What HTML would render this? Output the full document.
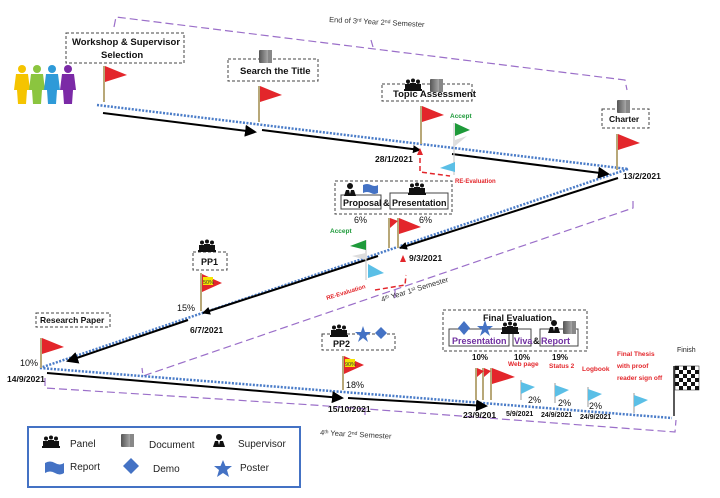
<!DOCTYPE html>
<html><head><meta charset="utf-8"><style>
html,body{margin:0;padding:0;background:#fff;}
svg{display:block;font-family:"Liberation Sans",sans-serif;}
.b{font-weight:bold;}
</style></head><body>
<svg width="720" height="498" viewBox="0 0 720 498" xmlns="http://www.w3.org/2000/svg">
<defs>
<marker id="ah" markerWidth="8" markerHeight="8" refX="7" refY="4" orient="auto" markerUnits="userSpaceOnUse"><path d="M0,0 L8,4 L0,8 z" fill="#000"/></marker>
<marker id="ahl" markerWidth="12" markerHeight="12" refX="10" refY="6" orient="auto" markerUnits="userSpaceOnUse"><path d="M0,0 L12,6 L0,12 z" fill="#000"/></marker>
<linearGradient id="dg" x1="0" x2="1"><stop offset="0" stop-color="#555"/><stop offset="1" stop-color="#ccc"/></linearGradient>
<g id="panel"><circle cx="4" cy="2.5" r="2" fill="#111"/><circle cx="9" cy="1.5" r="2" fill="#111"/><circle cx="14" cy="2.5" r="2" fill="#111"/><rect x="1" y="5" width="6" height="6" fill="#111"/><rect x="6" y="4" width="6" height="7" fill="#111"/><rect x="11" y="5" width="6" height="6" fill="#111"/><rect x="0" y="10" width="18" height="2" fill="#111"/></g>
<g id="doc"><rect x="0" y="0" width="13" height="13" fill="url(#dg)" rx="1"/><rect x="9" y="0" width="4" height="13" fill="#888"/></g>
<g id="sup"><circle cx="6" cy="3" r="3" fill="#111"/><path d="M0,13 L2,7 L10,7 L12,13 z" fill="#111"/><path d="M5,7 L6,11 L7,7z" fill="#fff"/></g>
<g id="rflag"><path d="M0,0 L22,9 L0,16 z" fill="#e3262b"/></g>
<g id="bflag"><line x1="0" y1="0" x2="0" y2="20" stroke="#aaa" stroke-width="1.2"/><path d="M0,2 L14,7 L0,14 z" fill="#5bbfe6"/></g>
</defs>

<!-- purple dashed brackets -->
<g fill="none" stroke="#9b6fc9" stroke-width="1.2" stroke-dasharray="8,4">
<path d="M114,27 L116,17 L625,80 L627,90"/>
<path d="M633,201 L633,208 L143,376 L142,368"/>
<path d="M45,378 L45,388 L313,405 L675,432 L676,420"/>
</g>
<g stroke="#9b6fc9" stroke-width="1.2" fill="none"><path d="M371,40 L373,47"/><path d="M395,290 L395,298"/><path d="M365,410 L365,415"/></g>
<text x="329" y="22" font-size="7.5" fill="#333" transform="rotate(3 329 22)">End of 3<tspan font-size="5" dy="-2">rd</tspan><tspan dy="2"> Year 2</tspan><tspan font-size="5" dy="-2">nd</tspan><tspan dy="2"> Semester</tspan></text>
<text x="382" y="302" font-size="7.5" fill="#333" transform="rotate(-17 382 302)">4<tspan font-size="5" dy="-2">th</tspan><tspan dy="2"> Year 1</tspan><tspan font-size="5" dy="-2">st</tspan><tspan dy="2"> Semester</tspan></text>
<text x="320" y="435" font-size="7.5" fill="#333" transform="rotate(3 320 435)">4<tspan font-size="5" dy="-2">th</tspan><tspan dy="2"> Year 2</tspan><tspan font-size="5" dy="-2">nd</tspan><tspan dy="2"> Semester</tspan></text>

<!-- blue dotted path -->
<g fill="none" stroke="#4a7cc8" stroke-width="2.5" stroke-dasharray="2,1.5">
<path d="M97,105 L628,169"/>
<path d="M628,169 L40,368"/>
<path d="M40,368 L672,418"/>
</g>

<!-- black arrows -->
<g stroke="#000" stroke-width="2" fill="none">
<line x1="103" y1="113" x2="255" y2="132" marker-end="url(#ahl)"/>
<line x1="262" y1="130" x2="420" y2="150" marker-end="url(#ah)"/>
<line x1="452" y1="154" x2="608" y2="174" marker-end="url(#ahl)"/>
<line x1="618" y1="178" x2="400" y2="248" marker-end="url(#ah)"/>
<line x1="378" y1="256" x2="203" y2="313" marker-end="url(#ah)"/>
<line x1="188" y1="320" x2="68" y2="361" marker-end="url(#ahl)"/>
<line x1="47" y1="373" x2="342" y2="398" marker-end="url(#ahl)"/>
<line x1="348" y1="398" x2="486" y2="406" marker-end="url(#ahl)"/>
</g>

<!-- people -->
<g>
<g fill="#f5c400"><circle cx="22" cy="69" r="4"/><path d="M16,74 L28,74 L30,90 L27,90 L26,104 L18,104 L17,90 L14,90z"/></g>
<g fill="#8bc53f"><circle cx="37" cy="69" r="4"/><path d="M31,74 L43,74 L45,90 L42,90 L41,104 L33,104 L32,90 L29,90z"/></g>
<g fill="#2e9ad8"><circle cx="52" cy="69" r="4"/><path d="M46,74 L58,74 L60,90 L57,90 L56,104 L48,104 L47,90 L44,90z"/></g>
<g fill="#7b2aa6"><circle cx="68" cy="69" r="4"/><path d="M62,74 L74,74 L76,90 L73,90 L72,104 L64,104 L63,90 L60,90z"/></g>
</g>

<!-- dashed boxes -->
<g fill="none" stroke="#444" stroke-width="1" stroke-dasharray="3,2">
<rect x="66" y="33" width="118" height="30"/>
<rect x="228" y="59" width="90" height="22"/>
<rect x="382" y="84" width="90" height="17"/>
<rect x="602" y="109" width="47" height="19"/>
<rect x="335" y="181" width="117" height="33"/>
<rect x="193" y="252" width="34" height="18"/>
<rect x="36" y="313" width="74" height="14"/>
<rect x="322" y="334" width="73" height="16"/>
<rect x="443" y="310" width="144" height="41"/>
</g>
<g fill="none" stroke="#444" stroke-width="1">
<rect x="341" y="195" width="40" height="14"/>
<rect x="390" y="193" width="58" height="16"/>
<rect x="449" y="329" width="60" height="17"/>
<rect x="513" y="329" width="18" height="17"/>
<rect x="540" y="329" width="38" height="17"/>
</g>

<g font-size="9.5" class="b" fill="#111" font-weight="bold">
<text x="72" y="45">Workshop &amp; Supervisor</text>
<text x="101" y="58">Selection</text>
<text x="240" y="74">Search the Title</text>
<text x="393" y="97">Topic Assessment</text>
<text x="609" y="122" font-size="8.5">Charter</text>
<text x="343" y="206" font-size="9">Proposal</text>
<text x="383" y="206" font-size="9">&amp;</text>
<text x="392" y="206" font-size="9">Presentation</text>
<text x="201" y="265" font-size="9">PP1</text>
<text x="40" y="323" font-size="8.5">Research Paper</text>
<text x="333" y="347" font-size="9">PP2</text>
<text x="483" y="321" font-size="9">Final Evaluation</text>
<g fill="#7030a0"><text x="452" y="344" font-size="9">Presentation</text><text x="514" y="344" font-size="9">Viva</text><text x="541" y="344" font-size="9">Report</text></g>
<text x="533" y="344" font-size="9">&amp;</text>
</g>

<!-- icons -->
<use href="#doc" x="259" y="50"/>
<use href="#panel" x="404" y="79"/><use href="#doc" x="430" y="79"/>
<use href="#doc" x="617" y="100"/>
<use href="#sup" x="344" y="183"/>
<path d="M363,185 q4,-2 8,0 q4,2 7,0 l0,8 q-4,2 -7,0 q-4,-2 -8,0z" fill="#4472c4"/>
<use href="#panel" x="408" y="183"/>
<use href="#panel" x="198" y="240"/>
<use href="#panel" x="330" y="325"/>
<polygon points="363,326 365,332 371,332 366,336 368,342 363,338 358,342 360,336 355,332 361,332" fill="#4472c4"/>
<polygon points="381,327 387,333 381,339 375,333" fill="#4472c4"/>
<polygon points="464,321 470,328 464,335 458,328" fill="#4472c4"/>
<polygon points="485,320 487,326 493,326 488,330 490,336 485,332 480,336 482,330 477,326 483,326" fill="#4472c4"/>
<use href="#panel" x="501" y="322"/>
<use href="#sup" x="548" y="320"/><use href="#doc" x="563" y="321"/>

<!-- red flags -->
<g stroke="#b8a878" stroke-width="2">
<line x1="104" y1="66" x2="104" y2="102"/>
<line x1="259" y1="86" x2="259" y2="122"/>
<line x1="421" y1="106" x2="421" y2="144"/>
<line x1="617" y1="134" x2="617" y2="170"/>
<line x1="389" y1="218" x2="389" y2="248"/>
<line x1="398" y1="218" x2="398" y2="248"/>
<line x1="201" y1="273" x2="201" y2="311"/>
<line x1="41" y1="338" x2="41" y2="368"/>
<line x1="343" y1="356" x2="343" y2="390"/>
<line x1="476" y1="368" x2="476" y2="400"/>
<line x1="483" y1="368" x2="483" y2="400"/>
<line x1="491" y1="368" x2="491" y2="400"/>
</g>
<use href="#rflag" x="105" y="66"/>
<use href="#rflag" x="260" y="86"/>
<use href="#rflag" x="422" y="106"/>
<use href="#rflag" x="618" y="134"/>
<path d="M390,218 L398,221 L390,228z" fill="#e3262b"/>
<use href="#rflag" x="399" y="218"/>
<path d="M202,274 L222,283 L202,292z" fill="#e3262b"/><rect x="203" y="277" width="10" height="8" fill="#f5e400"/><text x="203" y="284" font-size="5.5" fill="#333">50%</text>
<use href="#rflag" x="42" y="338"/>
<path d="M344,356 L364,365 L344,374z" fill="#e3262b"/><rect x="345" y="359" width="10" height="8" fill="#f5e400"/><text x="345" y="366" font-size="5.5" fill="#333">90%</text>
<path d="M477,368 L484,371 L477,377z M484,368 L491,371 L484,377z" fill="#e3262b"/>
<path d="M492,368 L515,377 L492,384z" fill="#e3262b"/>

<!-- accept / re-eval flags -->
<line x1="454" y1="123" x2="454" y2="175" stroke="#ccc" stroke-width="1.2"/>
<path d="M455,123 L470,130 L455,136z" fill="#1e9a3a"/>
<path d="M455,140 L467,136 L455,146z" fill="#ddd"/>
<path d="M455,162 L440,168 L455,172z" fill="#5bbfe6"/>
<text x="450" y="118" font-size="6.5" fill="#1e9a3a" font-weight="bold">Accept</text>
<path d="M420,158 L420,172 L450,176" fill="none" stroke="#e3262b" stroke-width="1.5" stroke-dasharray="5,3"/>
<path d="M417,155 L420,148 L423,155z" fill="#e3262b"/>
<text x="455" y="183" font-size="6" fill="#e3262b" font-weight="bold">RE-Evaluation</text>
<line x1="366" y1="240" x2="366" y2="280" stroke="#ccc" stroke-width="1.2"/>
<path d="M366,240 L350,246 L366,250z" fill="#1e9a3a"/>
<path d="M366,253 L352,256 L366,260z" fill="#ddd"/>
<path d="M368,264 L384,273 L368,278z" fill="#5bbfe6"/>
<text x="330" y="233" font-size="6.5" fill="#1e9a3a" font-weight="bold">Accept</text>
<path d="M375,290 L405,285 L406,275" fill="none" stroke="#e3262b" stroke-width="1.5" stroke-dasharray="5,3"/>
<path d="M400,262 L403,255 L406,262z" fill="#e3262b"/>
<text x="327" y="300" font-size="6" fill="#e3262b" font-weight="bold" transform="rotate(-17 327 300)">RE-Evaluation</text>

<!-- blue flags -->
<use href="#bflag" x="521" y="380"/>
<use href="#bflag" x="555" y="383"/>
<use href="#bflag" x="588" y="387"/>
<use href="#bflag" x="634" y="393"/>

<!-- checkered flag -->
<line x1="674" y1="366" x2="674" y2="416" stroke="#222" stroke-width="1.5"/>
<g>
<rect x="675" y="366" width="24" height="24" fill="#fff" stroke="#111" stroke-width="0.5"/>
<g fill="#111">
<rect x="675" y="366" width="4" height="4"/><rect x="683" y="366" width="4" height="4"/><rect x="691" y="366" width="4" height="4"/>
<rect x="679" y="370" width="4" height="4"/><rect x="687" y="370" width="4" height="4"/><rect x="695" y="370" width="4" height="4"/>
<rect x="675" y="374" width="4" height="4"/><rect x="683" y="374" width="4" height="4"/><rect x="691" y="374" width="4" height="4"/>
<rect x="679" y="378" width="4" height="4"/><rect x="687" y="378" width="4" height="4"/><rect x="695" y="378" width="4" height="4"/>
<rect x="675" y="382" width="4" height="4"/><rect x="683" y="382" width="4" height="4"/><rect x="691" y="382" width="4" height="4"/>
<rect x="679" y="386" width="4" height="4"/><rect x="687" y="386" width="4" height="4"/><rect x="695" y="386" width="4" height="4"/>
</g></g>
<text x="677" y="352" font-size="7" fill="#222">Finish</text>

<!-- labels -->
<g font-size="8.5" font-weight="bold" fill="#111">
<text x="375" y="162">28/1/2021</text>
<text x="623" y="179">13/2/2021</text>
<text x="409" y="261">9/3/2021</text>
<text x="190" y="333">6/7/2021</text>
<text x="7" y="382">14/9/2021</text>
<text x="328" y="412">15/10/2021</text>
<text x="463" y="418">23/9/201</text>
<text x="506" y="416" font-size="7">5/9/2021</text>
<text x="541" y="417" font-size="7">24/9/2021</text>
<text x="580" y="419" font-size="7">24/9/2021</text>
</g>
<g font-size="9" fill="#111">
<text x="354" y="223">6%</text>
<text x="419" y="223">6%</text>
<text x="177" y="311">15%</text>
<text x="20" y="366">10%</text>
<text x="346" y="388">18%</text>
<text x="472" y="360" font-weight="bold" font-size="8">10%</text>
<text x="514" y="360" font-weight="bold" font-size="8">10%</text>
<text x="552" y="360" font-weight="bold" font-size="8">19%</text>
<text x="528" y="403">2%</text>
<text x="558" y="406">2%</text>
<text x="589" y="409">2%</text>
</g>
<g font-size="6.5" fill="#e3262b" font-weight="bold">
<text x="508" y="366">Web page</text>
<text x="549" y="368">Status 2</text>
<text x="582" y="371">Logbook</text>
<text x="617" y="356">Final Thesis</text>
<text x="617" y="368">with proof</text>
<text x="617" y="380">reader sign off</text>
</g>

<!-- legend -->
<rect x="28" y="427" width="272" height="60" fill="#fff" stroke="#4472c4" stroke-width="2"/>
<use href="#panel" x="42" y="436"/>
<text x="70" y="447" font-size="10" fill="#222">Panel</text>
<use href="#doc" x="121" y="434"/>
<text x="149" y="448" font-size="10" fill="#222">Document</text>
<use href="#sup" x="213" y="434"/>
<text x="238" y="447" font-size="10" fill="#222">Supervisor</text>
<path d="M45,463 q5,-3 10,0 q5,3 9,0 l0,10 q-4,3 -9,0 q-5,-3 -10,0z" fill="#4472c4"/>
<text x="70" y="470" font-size="10" fill="#222">Report</text>
<polygon points="131,458 139,466 131,474 123,466" fill="#4472c4"/>
<text x="153" y="472" font-size="10" fill="#222">Demo</text>
<polygon points="223,460 225.5,466 232,466 227,470 229,477 223,473 217,477 219,470 214,466 220.5,466" fill="#4472c4"/>
<text x="240" y="471" font-size="10" fill="#222">Poster</text>
</svg>
</body></html>
